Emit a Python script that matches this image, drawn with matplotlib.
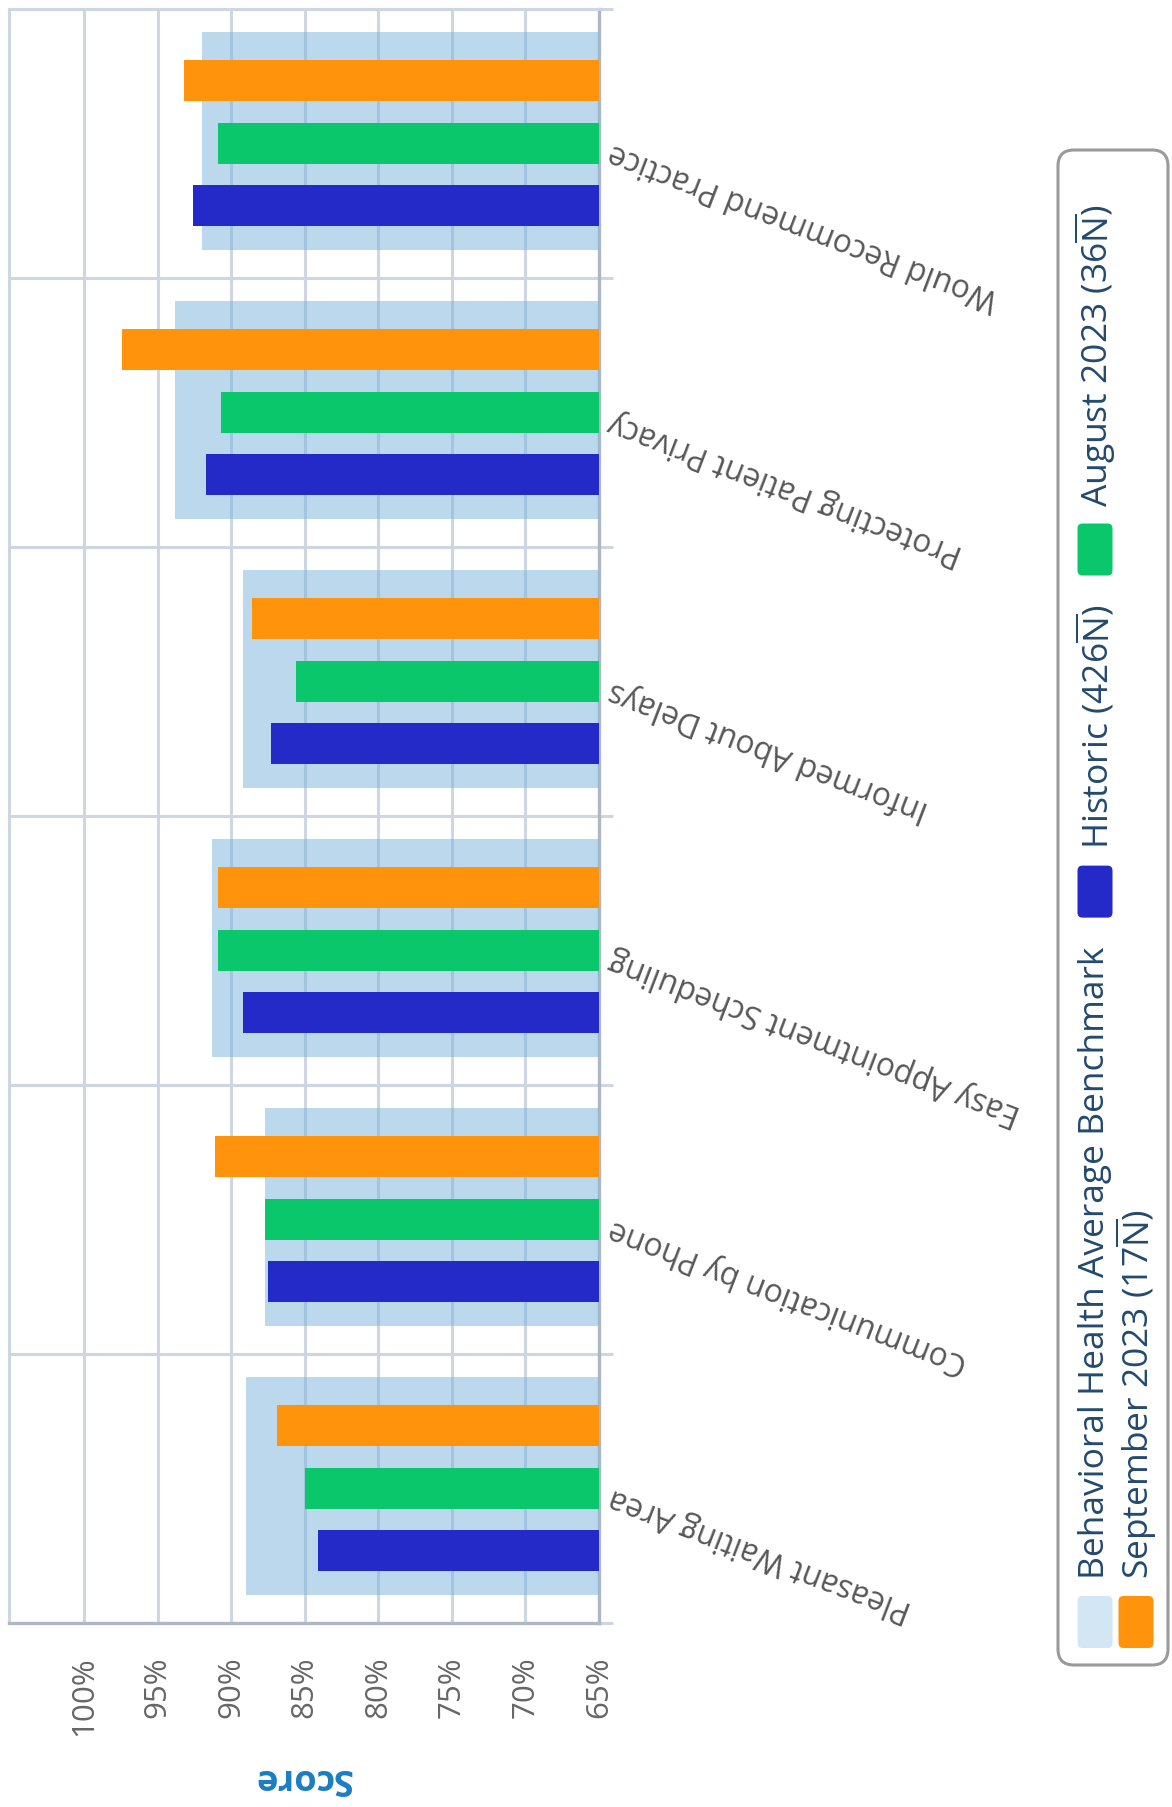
import matplotlib
matplotlib.use('Agg')
import matplotlib.pyplot as plt
from matplotlib.patches import FancyBboxPatch
import numpy as np

plt.rcParams['font.family'] = ['Open Sans', 'DejaVu Sans']
plt.rcParams['mathtext.fontset'] = 'custom'
plt.rcParams['mathtext.rm'] = 'Open Sans'

categories = ['Pleasant Waiting Area', 'Communication by Phone', 'Easy Appointment Scheduling',
              'Informed About Delays', 'Protecting Patient Privacy', 'Would Recommend Practice']
benchmark = [89.0, 87.7, 91.3, 89.2, 93.8, 92.0]
historic = [84.1, 87.5, 89.2, 87.3, 91.7, 92.6]
august = [85.0, 87.7, 90.9, 85.6, 90.7, 90.9]
september = [86.9, 91.1, 90.9, 88.6, 97.4, 93.2]
ticks = [100, 95, 90, 85, 80, 75, 70, 65]
tick_labels = ['100%', '95%', '90%', '85%', '80%', '75%', '70%', '65%']

nbar = r'$\overline{\mathrm{N}}$'
legend_labels = ['Behavioral Health Average Benchmark', 'Historic (426' + nbar + ')',
                 'August 2023 (36' + nbar + ')', 'September 2023 (17' + nbar + ')']

c_bench = '#79b3dd'
c_hist = '#232ac8'
c_aug = '#09c76a'
c_sep = '#ff930b'
grid_c = '#cdd7e2'
axis_c = '#aeb8c4'

W, H = 1172, 1807
fig = plt.figure(figsize=(W / 100, H / 100), dpi=100)
ax = fig.add_axes([9 / W, 1 - 1623 / H, 590 / W, 1614 / H])

y = np.arange(len(categories))
base = 65
ax.barh(y + 0.01, np.array(benchmark) - base, 0.81, left=base, color=c_bench, alpha=0.5, zorder=3)
ax.barh(y + 0.233, np.array(september) - base, 0.153, left=base, color=c_sep, zorder=4)
ax.barh(y, np.array(august) - base, 0.153, left=base, color=c_aug, zorder=4)
ax.barh(y - 0.229, np.array(historic) - base, 0.153, left=base, color=c_hist, zorder=4)

ax.set_xlim(105.1, 65)
ax.set_ylim(-0.5, len(categories) - 0.5)

ax.set_xticks(ticks, labels=tick_labels)
ax.tick_params(axis='x', length=0, pad=24, labelsize=22.5, labelcolor='#666666', labelrotation=90)
ax.xaxis.grid(True, color=grid_c, linewidth=2.2, zorder=1)

ax.yaxis.set_ticks_position('right')
ax.set_yticks(y, labels=categories)
ax.set_yticks(np.arange(len(categories) + 1) - 0.5, minor=True)
ax.yaxis.grid(True, which='minor', color=grid_c, linewidth=2.2, zorder=1)
ax.tick_params(axis='y', which='major', length=0, pad=10, labelsize=22.8, labelcolor='#575757')
ax.tick_params(axis='y', which='minor', length=10, width=2.2, color=grid_c, right=True, left=False)
for lbl in ax.get_yticklabels():
    lbl.set_rotation(159)
    lbl.set_rotation_mode('anchor')
    lbl.set_ha('right')
    lbl.set_va('baseline')
ax.set_axisbelow(True)

for s in ['left', 'top']:
    ax.spines[s].set_color(grid_c)
    ax.spines[s].set_linewidth(2.2)
for s in ['right', 'bottom']:
    ax.spines[s].set_color(axis_c)
    ax.spines[s].set_linewidth(2.4)

ax.set_xlabel('Score', rotation=180, fontsize=26, fontweight='bold', color='#1a7dc3')
ax.xaxis.set_label_coords(0.497, -0.096)
ax.xaxis.label.set_va('center')

# legend, drawn by hand because the whole chart is turned on its side
lg = fig.add_axes([0, 0, 1, 1], zorder=10)
lg.set_xlim(0, W)
lg.set_ylim(H, 0)
lg.axis('off')
lg.add_patch(FancyBboxPatch((1058, 150), 110, 1515, boxstyle='round,pad=0,rounding_size=16',
                            fc='white', ec='#9a9a9a', lw=2.2))

fig.canvas.draw()
renderer = fig.canvas.get_renderer()
sw_colors = ['#d3e6f4', c_hist, c_aug, c_sep]
cols = [1095, 1095, 1095, 1136]
start = 1648
for i, (lab, col) in enumerate(zip(legend_labels, sw_colors)):
    if i == 3:
        start = 1648
    cx = cols[i]
    lg.add_patch(FancyBboxPatch((cx - 17.5, start - 52), 35, 52, boxstyle='round,pad=0,rounding_size=5',
                                fc=col, ec='none'))
    t = lg.text(cx, start - 52 - 17, lab, rotation=90, ha='center', va='bottom', fontsize=25.5,
                color='#234a6e')
    bb = t.get_window_extent(renderer)
    start = start - 52 - 17 - bb.height - 29

fig.savefig('out.png', dpi=100)
